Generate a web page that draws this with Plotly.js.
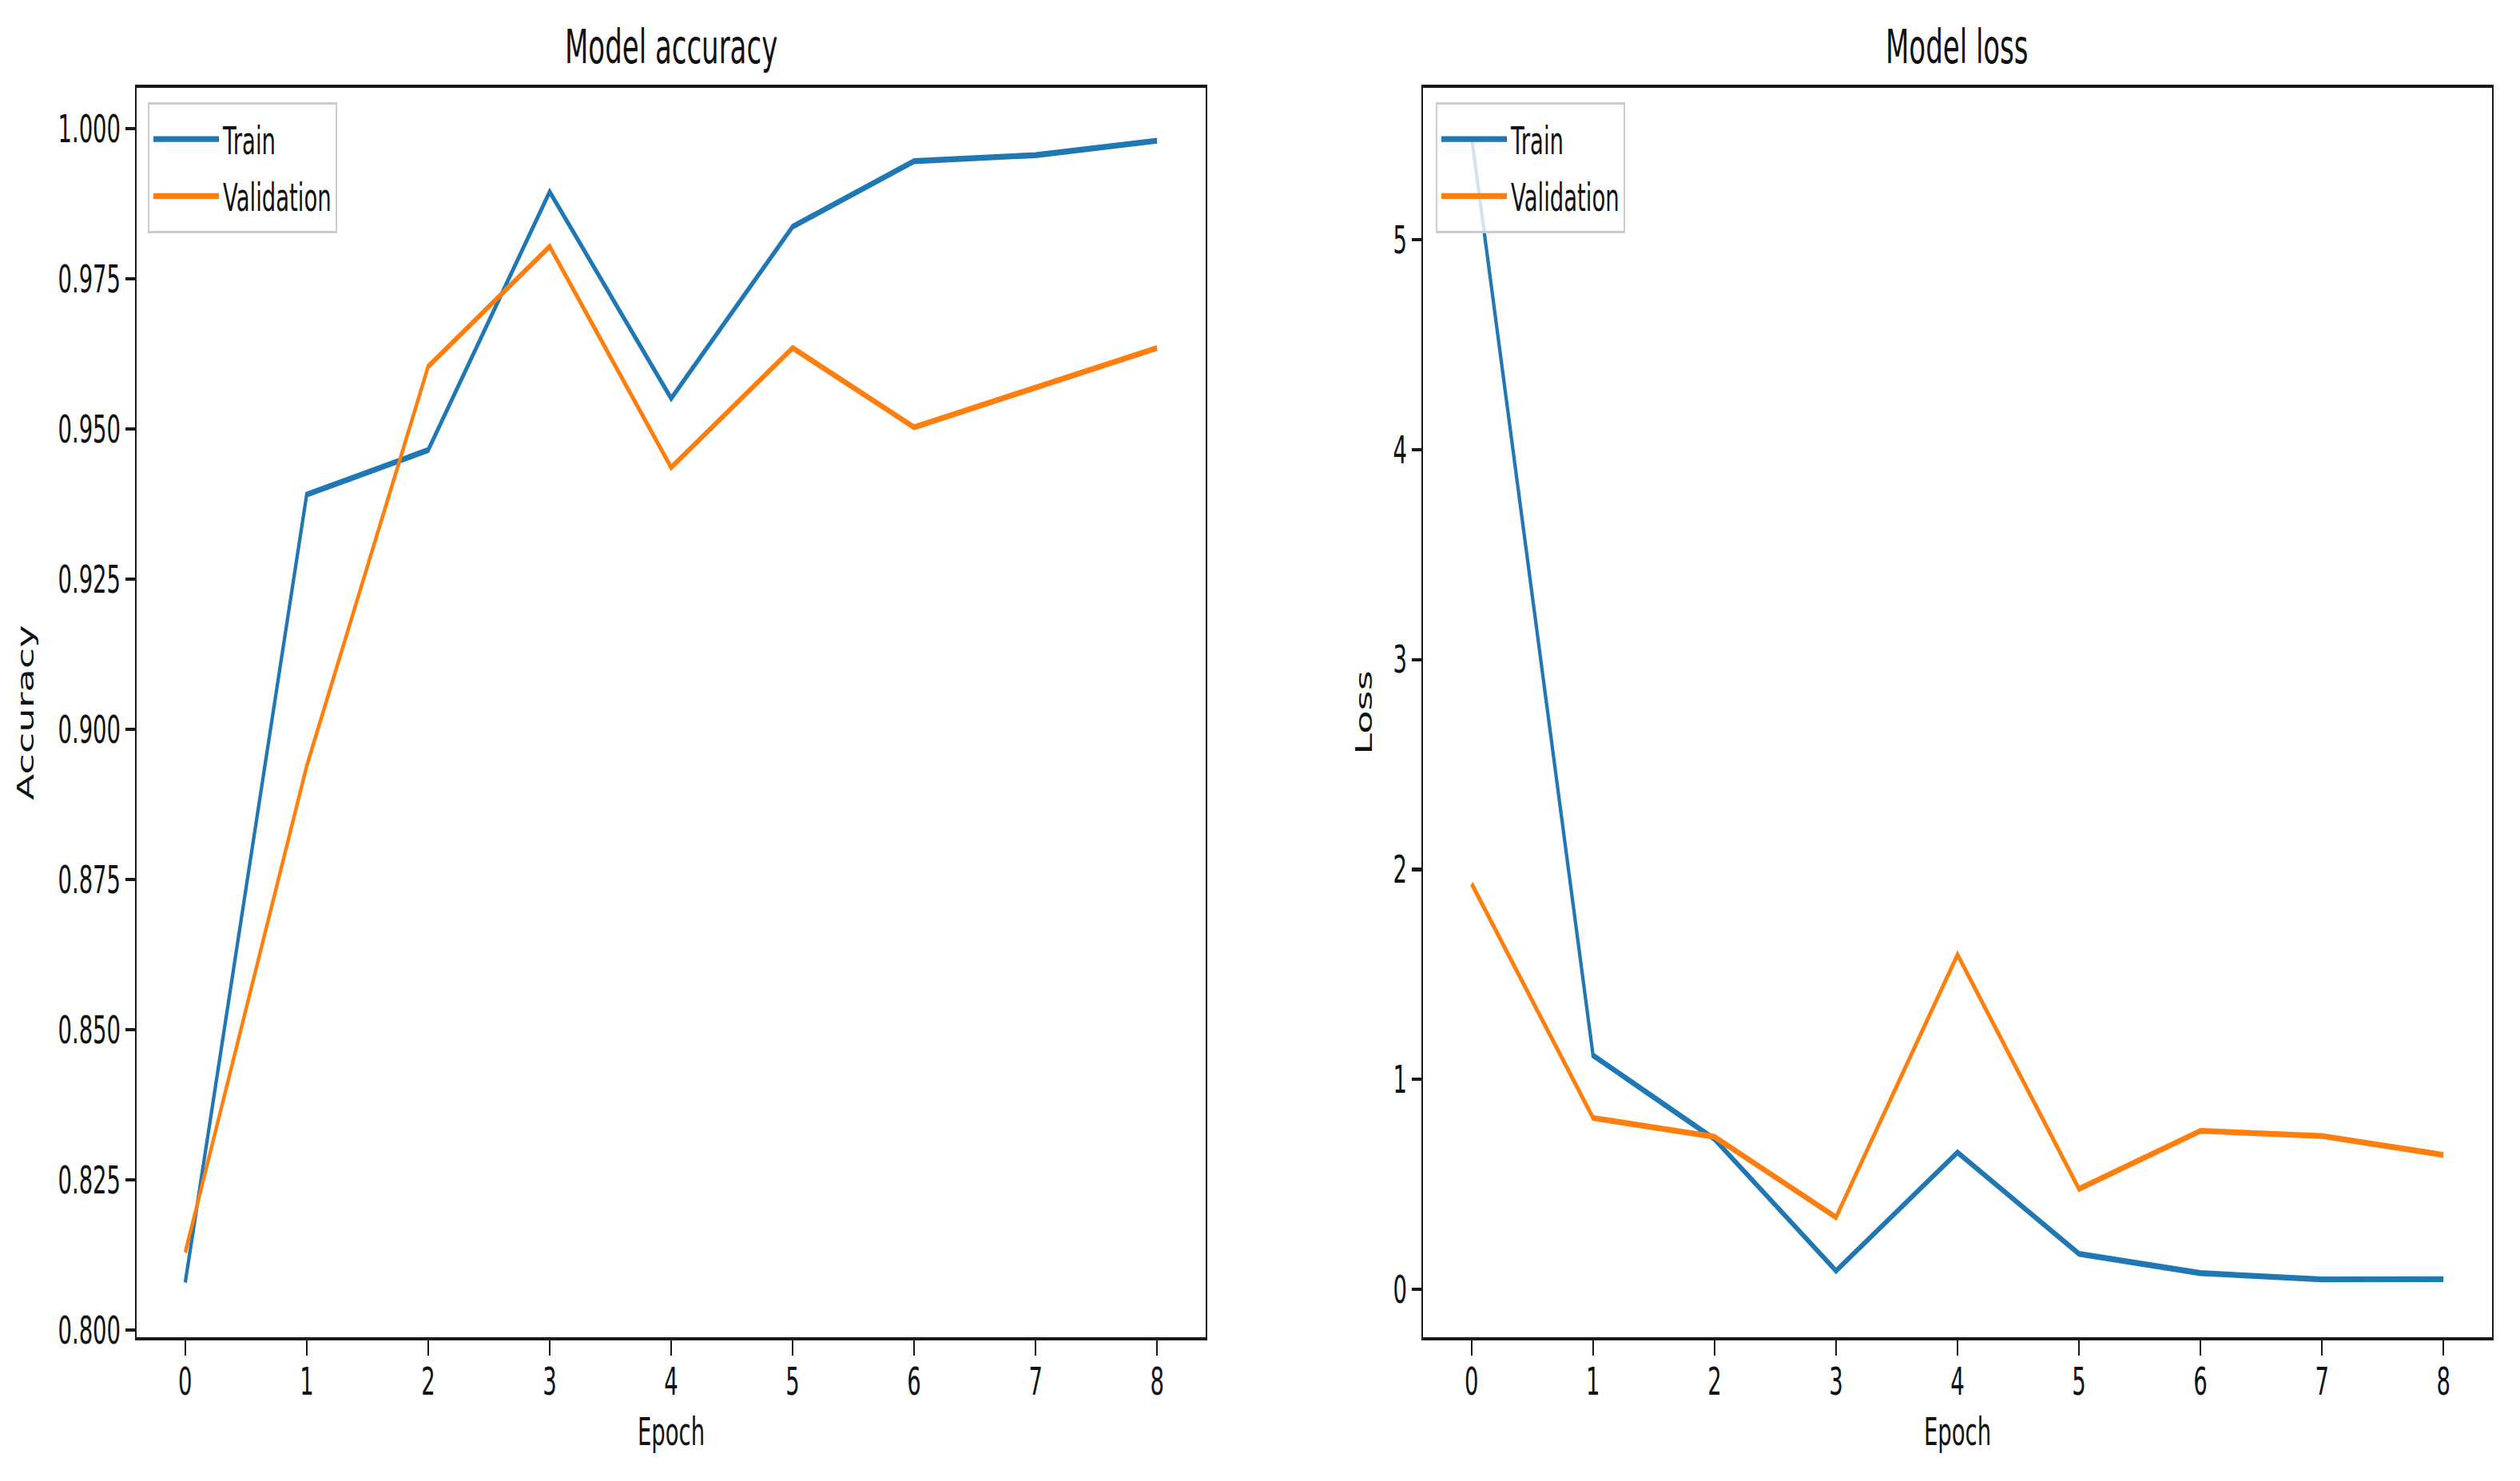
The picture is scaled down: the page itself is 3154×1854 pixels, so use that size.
<!DOCTYPE html>
<html>
<head>
<meta charset="utf-8">
<script src="https://cdn.plot.ly/plotly-3.0.1.min.js"></script>
<style>
  html, body { margin: 0; padding: 0; background: #ffffff; overflow: hidden; }
  #wrap { width: 3154px; height: 1854px; overflow: hidden; position: relative; }
  #plot { width: 3154px; height: 1060px; transform: scaleY(1.74906); transform-origin: 0 0; }
</style>
</head>
<body>
<div id="wrap"><div id="plot"></div></div>
<script>
// ---- data ----
const epochs = [0, 1, 2, 3, 4, 5, 6, 7, 8];
const trainAcc = [0.8079, 0.9391, 0.9465, 0.9895, 0.9551, 0.9837, 0.9946, 0.9956, 0.9980];
const valAcc   = [0.8129, 0.8939, 0.9604, 0.9804, 0.9436, 0.9635, 0.9503, 0.9570, 0.9635];
const trainLoss = [5.49, 1.114, 0.715, 0.088, 0.652, 0.169, 0.077, 0.047, 0.048];
const valLoss   = [1.932, 0.816, 0.726, 0.343, 1.594, 0.478, 0.755, 0.730, 0.640];
const accTicks  = [0.800, 0.825, 0.850, 0.875, 0.900, 0.925, 0.950, 0.975, 1.000];
const lossTicks = [0, 1, 2, 3, 4, 5];
const seriesNames = ['Train', 'Validation'];
const titles = ['Model accuracy', 'Model loss'];

const BLUE = '#1f77b4', ORANGE = '#ff7f0e';
const FONT = 'DejaVu Sans, Verdana, sans-serif';
const LW = 4.2;

const traces = [
  {x: epochs, y: trainAcc, name: seriesNames[0], type: 'scatter', mode: 'lines',
   line: {color: BLUE, width: LW}, xaxis: 'x', yaxis: 'y', legend: 'legend', legendgroup: 'a1'},
  {x: epochs, y: valAcc, name: seriesNames[1], type: 'scatter', mode: 'lines',
   line: {color: ORANGE, width: LW}, xaxis: 'x', yaxis: 'y', legend: 'legend', legendgroup: 'a2'},
  {x: epochs, y: trainLoss, name: seriesNames[0], type: 'scatter', mode: 'lines',
   line: {color: BLUE, width: LW}, xaxis: 'x2', yaxis: 'y2', legend: 'legend2', legendgroup: 'l1'},
  {x: epochs, y: valLoss, name: seriesNames[1], type: 'scatter', mode: 'lines',
   line: {color: ORANGE, width: LW}, xaxis: 'x2', yaxis: 'y2', legend: 'legend2', legendgroup: 'l2'}
];

const axisCommon = {
  showline: true, mirror: true, linecolor: '#1a1a1a', linewidth: 2.4,
  ticks: 'outside', tickwidth: 2.4, tickcolor: '#1a1a1a',
  showgrid: false, zeroline: false,
  tickfont: {family: FONT, size: 27.5, color: '#111111'}
};
const xAxisExtra = {ticklen: 11, ticklabelstandoff: -5};
const yAxisExtra = {ticklen: 12};
const titleFont = {family: FONT, size: 27.5, color: '#111111'};

const yDom = [0.09709, 0.94067];
const legendCommon = {
  bgcolor: 'rgba(255,255,255,0.8)', bordercolor: '#cccccc', borderwidth: 2,
  font: {family: FONT, size: 27.5, color: '#111111'}, itemwidth: 82,
  xanchor: 'left', yanchor: 'top', y: 0.931, tracegroupgap: 2, traceorder: 'grouped'
};

const layout = {
  width: 3154, height: 1060, autosize: false,
  margin: {l: 0, r: 0, t: 0, b: 0, pad: 0},
  paper_bgcolor: '#ffffff', plot_bgcolor: '#ffffff',
  font: {family: FONT, color: '#111111'},
  showlegend: true,
  xaxis: Object.assign({}, axisCommon, xAxisExtra, {
    domain: [0.05422, 0.47844], range: [-0.4, 8.4], tickmode: 'array', tickvals: epochs,
    anchor: 'y', title: {text: 'Epoch', font: titleFont, standoff: 12}
  }),
  yaxis: Object.assign({}, axisCommon, yAxisExtra, {
    domain: yDom, range: [0.7988, 1.0068], tickmode: 'array', tickvals: accTicks,
    ticktext: accTicks.map(v => v.toFixed(3)), anchor: 'x',
    title: {text: 'Accuracy', font: titleFont, standoff: 22}
  }),
  xaxis2: Object.assign({}, axisCommon, xAxisExtra, {
    domain: [0.56468, 0.98890], range: [-0.4, 8.4], tickmode: 'array', tickvals: epochs,
    anchor: 'y2', title: {text: 'Epoch', font: titleFont, standoff: 12}
  }),
  yaxis2: Object.assign({}, axisCommon, yAxisExtra, {
    domain: yDom, range: [-0.2283, 5.7230], tickmode: 'array', tickvals: lossTicks,
    anchor: 'x2',
    title: {text: 'Loss', font: titleFont, standoff: 18}
  }),
  legend: Object.assign({}, legendCommon, {x: 0.05866}),
  legend2: Object.assign({}, legendCommon, {x: 0.56976}),
  annotations: [
    {text: titles[0], xref: 'paper', yref: 'paper', x: 0.26633, y: 0.9689,
     xanchor: 'center', yanchor: 'middle', showarrow: false,
     font: {family: FONT, size: 34, color: '#111111'}},
    {text: titles[1], xref: 'paper', yref: 'paper', x: 0.77679, y: 0.9689,
     xanchor: 'center', yanchor: 'middle', showarrow: false,
     font: {family: FONT, size: 34, color: '#111111'}}
  ]
};

Plotly.newPlot('plot', traces, layout, {staticPlot: true, displayModeBar: false});
</script>
</body>
</html>
